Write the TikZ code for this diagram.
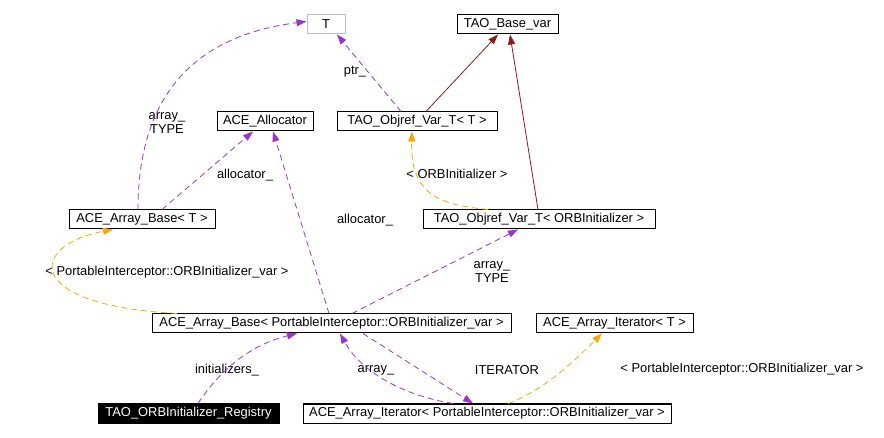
\documentclass[tikz,border=0pt]{standalone}
\usepackage{fontspec}
\setmainfont{Liberation Sans}
\usetikzlibrary{arrows.meta}
\definecolor{usecol}{HTML}{9A32CD}
\definecolor{tplcol}{HTML}{FFA500}
\definecolor{inhcol}{HTML}{8B1A1A}
\newcommand{\lblfont}{\fontsize{12.9}{14}\selectfont}

\begin{document}
\begin{tikzpicture}[x=1pt,y=-1pt,
	cls/.style={shape=rectangle,draw=black,line width=1pt,minimum height=19pt,inner sep=0pt,font=\lblfont},
	lbl/.style={align=center,inner sep=0pt,font=\lblfont},
	uses/.style={draw=usecol,line width=0.8pt,dash pattern=on 6pt off 4pt,-{Triangle[length=10pt,width=7pt]}},
	tmpl/.style={draw=tplcol,line width=0.8pt,dash pattern=on 6pt off 4pt,-{Triangle[length=10pt,width=7pt]}},
	inh/.style={draw=inhcol,line width=0.8pt,-{Triangle[length=10pt,width=7pt]}}]

	\useasboundingbox (0,0) rectangle (884,438);

	\node[cls,draw=black!25,minimum width=38pt] (tee) at (326, 24.5) {T};
	\node[cls,minimum width=101pt] (basevar) at (507.5, 24.5) {TAO\_Base\_var};
	\node[cls,minimum width=96pt] (alloc) at (265, 121.5) {ACE\_Allocator};
	\node[cls,minimum width=160pt] (objT) at (417, 121.5) {TAO\_Objref\_Var\_T< T >};
	\node[cls,minimum width=146pt] (arrT) at (142, 219.5) {ACE\_Array\_Base< T >};
	\node[cls,minimum width=232pt] (objORB) at (539, 219.5) {TAO\_Objref\_Var\_T< ORBInitializer >};
	\node[cls,minimum width=359pt] (arrPI) at (331.5, 323.5) {ACE\_Array\_Base< PortableInterceptor::ORBInitializer\_var >};
	\node[cls,minimum width=157pt] (itT) at (614.5, 323.5) {ACE\_Array\_Iterator< T >};
	\node[cls,fill=black,text=white,minimum width=181pt] (reg) at (188.5, 413.5) {TAO\_ORBInitializer\_Registry};
	\node[cls,minimum width=368pt] (itPI) at (487, 413.5) {ACE\_Array\_Iterator< PortableInterceptor::ORBInitializer\_var >};

	\node[lbl] (l1) at (167, 123) {array\_\\TYPE};
	\node[lbl] (l2) at (355, 72) {ptr\_};
	\node[lbl] (l3) at (245, 175) {allocator\_};
	\node[lbl] (l4) at (365, 220) {allocator\_};
	\node[lbl] (l5) at (457, 174) {< ORBInitializer >};
	\node[lbl] (l6) at (167, 272) {< PortableInterceptor::ORBInitializer\_var >};
	\node[lbl] (l7) at (492, 272) {array\_\\TYPE};
	\node[lbl] (l8) at (227, 370) {initializers\_};
	\node[lbl] (l9) at (376, 370) {array\_};
	\node[lbl] (l10) at (507, 370) {ITERATOR};
	\node[lbl] (l11) at (742, 369) {< PortableInterceptor::ORBInitializer\_var >};

	\draw[uses] ([xshift=-4pt]arrT.north) .. controls (138,90) and (200,35) .. ([yshift=3pt]tee.west);
	\path ([xshift=-16pt]objT.north) edge[uses] ([xshift=11pt]tee.south);
	\path ([xshift=9pt]objT.north) edge[inh] ([xshift=-9.5pt]basevar.south);
	\path ([xshift=-1pt]objORB.north) edge[inh] ([xshift=2.5pt]basevar.south);
	\draw[tmpl] ([xshift=-51pt]objORB.north) .. controls (440,205) and (410,195) .. ([xshift=-5pt]objT.south);
	\path ([xshift=20pt]arrT.north) edge[uses] ([xshift=-12pt]alloc.south);
	\path ([xshift=-2.5pt]arrPI.north) edge[uses] ([xshift=8pt]alloc.south);
	\draw[tmpl] ([xshift=-154.5pt]arrPI.north) .. controls (20,305) and (30,245) .. ([xshift=-29pt]arrT.south);
	\path ([xshift=20.5pt]arrPI.north) edge[uses] ([xshift=-21pt]objORB.south);
	\draw[uses] ([xshift=9.5pt]reg.north) .. controls (220,370) and (250,345) .. ([xshift=-34.5pt]arrPI.south);
	\draw[uses] ([xshift=-34pt]itPI.north) .. controls (400,395) and (360,370) .. ([xshift=8.5pt]arrPI.south);
	\path ([xshift=31.5pt]arrPI.south) edge[uses] ([xshift=-14pt]itPI.north);
	\draw[tmpl] ([xshift=21pt]itPI.north) .. controls (545,390) and (575,360) .. ([xshift=-12.5pt]itT.south);

\end{tikzpicture}
\end{document}
